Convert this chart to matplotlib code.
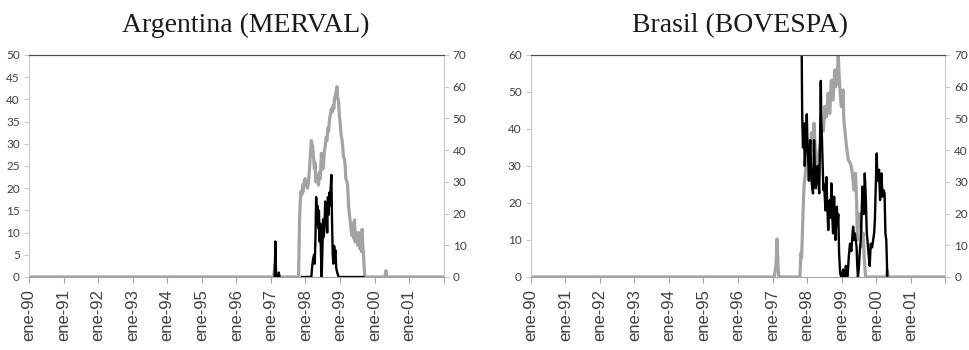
import numpy as np
import matplotlib
matplotlib.use("Agg")
import matplotlib.pyplot as plt

nan = np.nan

# x tick labels (one per year, Jan)
tick_years = list(range(1990, 2003))
tick_labels = ["ene-90", "ene-91", "ene-92", "ene-93", "ene-94", "ene-95",
               "ene-96", "ene-97", "ene-98", "ene-99", "ene-00", "ene-01", ""]

# Argentina (MERVAL) - black series, left axis
arg_black_x = [1997.11, 1997.13, 1997.15, nan,
               1997.21, 1997.23, 1997.25, nan,
               1997.90, 1998.17, 1998.19, 1998.22, 1998.25, 1998.27, 1998.29, 1998.31,
               1998.33, 1998.35, 1998.37, 1998.39, 1998.41, 1998.43, 1998.45, 1998.47,
               1998.49, 1998.51, 1998.53, 1998.55, 1998.57, 1998.59, 1998.61, 1998.63,
               1998.65, 1998.67, 1998.69, 1998.71, 1998.73, 1998.75, 1998.77, 1998.79,
               1998.81, 1998.83, 1998.85, 1998.87, 1998.89, 1998.92, 1998.96, 1999.68]
arg_black_y = [0, 8, 0, nan,
               0, 1, 0, nan,
               0, 0, 2, 4, 5, 3, 9, 18,
               14, 16, 11, 15, 8, 12, 5, 0,
               6, 13, 9, 11, 17, 12, 15, 10,
               18, 14, 19, 16, 20, 23, 12, 5,
               3, 7, 5, 6, 2, 1, 0, 0]

# Argentina (MERVAL) - grey series, right axis
arg_grey_x = [1990.00, 1997.08, 1997.10, 1997.12, 1997.14, 1997.16, 1997.80, 1997.83,
              1997.85, 1997.87, 1997.90, 1997.92, 1997.94, 1997.96, 1997.99, 1998.01,
              1998.04, 1998.06, 1998.09, 1998.11, 1998.14, 1998.17, 1998.19, 1998.21,
              1998.24, 1998.26, 1998.28, 1998.30, 1998.33, 1998.35, 1998.38, 1998.40,
              1998.43, 1998.46, 1998.48, 1998.50, 1998.52, 1998.55, 1998.57, 1998.60,
              1998.62, 1998.65, 1998.67, 1998.70, 1998.72, 1998.75, 1998.77, 1998.80,
              1998.82, 1998.84, 1998.86, 1998.88, 1998.91, 1998.93, 1998.96, 1998.98,
              1999.01, 1999.03, 1999.06, 1999.08, 1999.10, 1999.13, 1999.15, 1999.17,
              1999.20, 1999.22, 1999.25, 1999.27, 1999.30, 1999.32, 1999.35, 1999.37,
              1999.40, 1999.42, 1999.44, 1999.47, 1999.49, 1999.52, 1999.54, 1999.57,
              1999.59, 1999.62, 1999.64, 1999.66, 1999.68, 1999.70, 1999.72, 2000.30,
              2000.33, 2000.36, 2002.00]
arg_grey_y = [0, 0, 2, 4, 1, 0, 0, 18,
              24, 27, 26, 29, 27, 30, 31, 29,
              30, 28, 30, 33, 38, 43, 42, 41,
              37, 34, 36, 30, 30, 32, 29, 33,
              31, 39, 36, 34, 35, 40, 41, 44,
              43, 47, 46, 50, 51, 53, 52, 54,
              53, 56, 57, 58, 60, 57, 55, 51,
              48, 45, 43, 41, 38, 37, 35, 31,
              30, 29, 22, 20, 17, 15, 13, 17,
              12, 18, 11, 14, 12, 10, 14, 9,
              13, 8, 15, 10, 7, 3, 0, 0,
              2, 0, 0]

# Brasil (BOVESPA) - black series, left axis
bra_black_x = [1997.840, 1997.855, 1997.865, 1997.880, 1997.895, 1997.910, 1997.930, 1997.950,
               1997.970, 1997.990, 1998.010, 1998.030, 1998.050, 1998.060, 1998.090, 1998.110,
               1998.125, 1998.150, 1998.170, 1998.200, 1998.220, 1998.250, 1998.270, 1998.300,
               1998.330, 1998.350, 1998.370, 1998.395, 1998.410, 1998.430, 1998.450, 1998.470,
               1998.490, 1998.510, 1998.530, 1998.560, 1998.580, 1998.610, 1998.630, 1998.655,
               1998.680, 1998.700, 1998.720, 1998.750, 1998.780, 1998.800, 1998.820, 1998.840,
               1998.860, 1998.880, 1998.900, 1998.925, 1998.955, 1998.990, 1999.020, 1999.040,
               1999.070, 1999.090, 1999.120, 1999.150, 1999.170, 1999.205, 1999.240, 1999.280,
               1999.300, 1999.330, 1999.360, 1999.380, 1999.430, 1999.450, 1999.470, 1999.500,
               1999.520, 1999.550, 1999.570, 1999.600, 1999.620, 1999.640, 1999.667, 1999.700,
               1999.725, 1999.760, 1999.790, 1999.810, 1999.840, 1999.880, 1999.910, 1999.940,
               1999.960, 1999.985, 2000.014, 2000.030, 2000.050, 2000.080, 2000.110, 2000.150,
               2000.180, 2000.210, 2000.240, 2000.265, 2000.290, 2000.320]
bra_black_y = [64, 45, 40, 35, 38, 41.5, 30, 34,
               40, 44, 36, 32.5, 26, 30, 37, 30,
               26, 24, 22.6, 37, 30, 24, 28, 30,
               25, 22.6, 35, 53, 42, 37, 30, 23.5,
               25, 21.7, 18, 27, 20, 12.7, 18, 20.8,
               16, 25.3, 18, 11.8, 21.7, 15, 10, 16,
               19, 14, 17, 6.4, 1, 0, 1, 2,
               0, 0, 3, 0, 0, 5.5, 9, 7,
               10, 13.6, 10, 11.8, 8.2, 3, 0, 3,
               6.4, 10, 15.4, 24.4, 20, 17, 28, 20.8,
               12, 8.2, 5, 3, 9, 8, 10, 12,
               15.4, 24.4, 33.4, 27, 26, 29, 20.8, 28,
               21.7, 23.5, 22.6, 11.8, 10, 0]

# Brasil (BOVESPA) - grey series, right axis
bra_grey_x = [1990.00, 1997.05, 1997.10, 1997.13, 1997.16, 1997.18, 1997.79, 1997.82,
              1997.84, 1997.88, 1997.91, 1997.95, 1997.99, 1998.03, 1998.06, 1998.08,
              1998.125, 1998.15, 1998.17, 1998.20, 1998.22, 1998.25, 1998.27, 1998.30,
              1998.33, 1998.35, 1998.395, 1998.43, 1998.47, 1998.51, 1998.535, 1998.56,
              1998.61, 1998.63, 1998.655, 1998.70, 1998.72, 1998.75, 1998.80, 1998.82,
              1998.86, 1998.90, 1998.92, 1998.955, 1998.99, 1999.04, 1999.06, 1999.09,
              1999.14, 1999.19, 1999.24, 1999.28, 1999.33, 1999.36, 1999.40, 1999.43,
              1999.455, 1999.47, 1999.52, 1999.55, 1999.59, 1999.62, 1999.65, 1999.69,
              2000.29, 2000.32, 2000.35, 2002.00]
bra_grey_y = [0, 0, 4, 12, 3, 0, 0, 7.5,
              6, 20, 28.5, 33, 38, 43, 36, 32.7,
              45.5, 40, 41, 48.5, 43, 38, 36, 34.8,
              38, 40, 43, 48.5, 46, 53.7, 50.5, 50.5,
              58, 53, 51.6, 62, 56, 55.8, 65.3, 60,
              61, 70, 65, 58, 53.7, 59, 50, 46.4,
              41, 37, 36, 34.8, 30.6, 27.4, 32.7, 24.3,
              11.7, 20, 16, 20, 9.6, 13.8, 6.4, 0,
              0, 2, 0, 0]

GREY = "#a3a3a3"
LABEL = "#404040"

fig = plt.figure(figsize=(9.7, 3.5), dpi=100)


def panel(left, title, title_x, bx, by, gx, gy, ymax_left, step_left):
    ax = fig.add_axes([left, 0.2086, 0.4275, 0.6343])
    ax2 = ax.twinx()
    ax2.plot(gx, gy, color=GREY, lw=2.3)
    ax.plot(bx, by, color="black", lw=1.7)
    ax.set_zorder(ax2.get_zorder() + 1)
    ax.patch.set_visible(False)

    ax.set_xlim(1990, 2002)
    ax.set_ylim(0, ymax_left)
    ax2.set_ylim(0, 70)
    ax.set_yticks(np.arange(0, ymax_left + 1, step_left))
    ax2.set_yticks(np.arange(0, 71, 10))
    ax.set_xticks(tick_years)
    ax.set_xticklabels(tick_labels, rotation=90, fontsize=12, color=LABEL,
                       family="Liberation Sans")

    for a in (ax, ax2):
        for s in a.spines.values():
            s.set_visible(False)
    ax.spines["top"].set_visible(True)
    ax.spines["top"].set_color("#505050")
    ax.spines["top"].set_linewidth(0.9)
    ax.spines["left"].set_visible(True)
    ax.spines["left"].set_color("#c8c8c8")
    ax.spines["bottom"].set_visible(True)
    ax.spines["bottom"].set_color(GREY)
    ax2.spines["right"].set_visible(True)
    ax2.spines["right"].set_color("#c8c8c8")

    ax.tick_params(axis="x", direction="out", length=4, width=0.8, color="#a0a0a0", pad=5)
    ax.tick_params(axis="y", direction="out", length=3.5, width=0.8, color="#c8c8c8",
                   pad=3, labelsize=8.5, labelcolor=LABEL)
    ax2.tick_params(axis="y", direction="out", length=3.5, width=0.8, color="#c8c8c8",
                    pad=3, labelsize=8.5, labelcolor=LABEL)
    for lab in ax.get_yticklabels() + ax2.get_yticklabels():
        lab.set_family("Lato")

    fig.text(title_x, 1 - 32 / 350, title, ha="center", va="baseline",
             fontsize=20, family="Liberation Serif", color="#1a1a1a")


panel(29 / 970, "Argentina (MERVAL)", 246 / 970,
      arg_black_x, arg_black_y, arg_grey_x, arg_grey_y, 50, 5)
panel(530.7 / 970, "Brasil (BOVESPA)", 740 / 970,
      bra_black_x, bra_black_y, bra_grey_x, bra_grey_y, 60, 10)

fig.savefig("out.png", dpi=100)
